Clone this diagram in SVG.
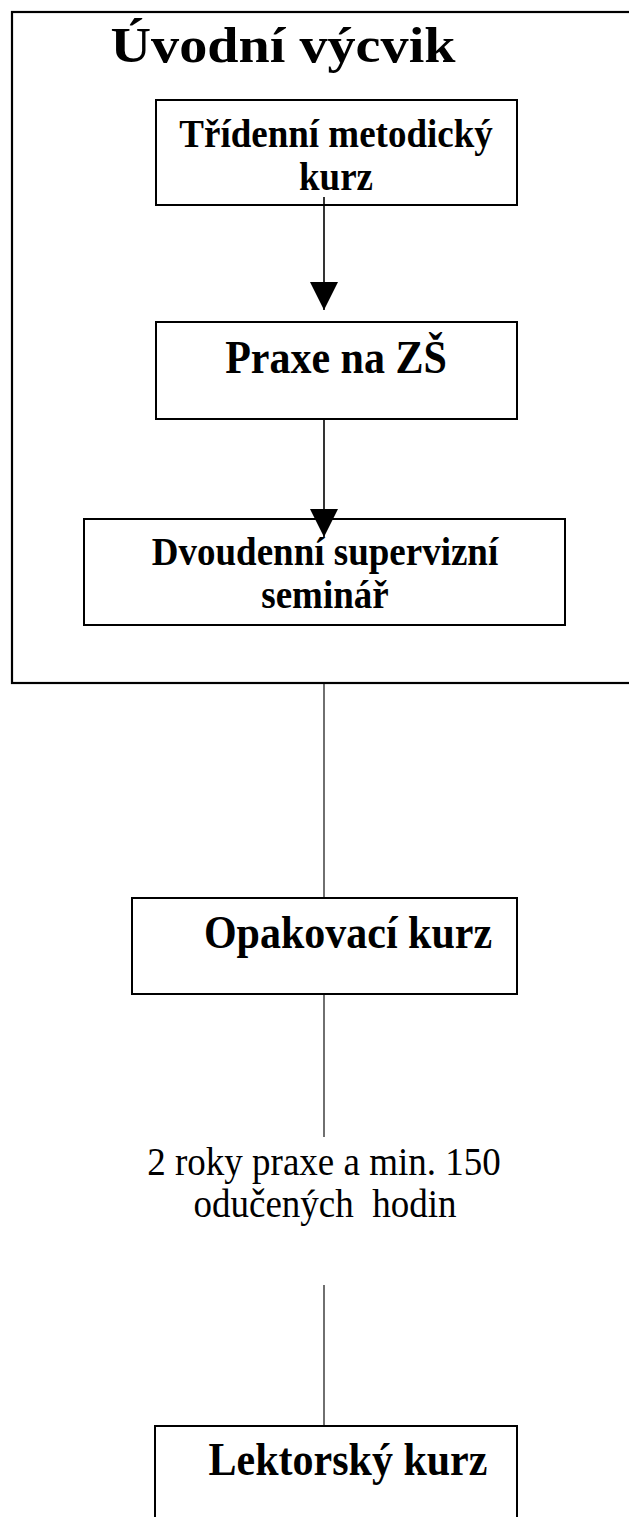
<svg xmlns="http://www.w3.org/2000/svg" width="629" height="1517" viewBox="0 0 629 1517">
<style>
.box{fill:#fff;stroke:#000;stroke-width:2}
.frame{fill:none;stroke:#000;stroke-width:2.2}
.b{font-family:"Liberation Serif","Times New Roman",serif;font-weight:bold;fill:#000;text-anchor:middle}
.r{font-family:"Liberation Serif","Times New Roman",serif;fill:#000;text-anchor:middle}
.ln{stroke:#000;stroke-width:1.6;fill:none}
.ln2{stroke:#222;stroke-width:1.3;fill:none}
</style>
<defs>
<marker id="ah" viewBox="0 0 28 28" refX="28" refY="14" markerWidth="28" markerHeight="28" markerUnits="userSpaceOnUse" orient="auto">
<path d="M0,0 L28,14 L0,28 Z" fill="#000"/>
</marker>
</defs>
<rect width="629" height="1517" fill="#fff"/>
<g id="uvodni-vycvik">
<rect class="frame" x="12" y="12" width="640" height="671"/>
<text class="b" transform="translate(283,62) scale(1,1.08)" x="0" y="0" font-size="47" textLength="345" lengthAdjust="spacingAndGlyphs">Úvodní výcvik</text>
</g>
<g id="tridenni">
<rect class="box" x="156" y="100" width="361" height="105"/>
<text class="b" transform="translate(336,147) scale(1,1.08)" x="0" y="0" font-size="37">Třídenní metodický</text>
<text class="b" transform="translate(336,190) scale(1,1.08)" x="0" y="0" font-size="37">kurz</text>
</g>
<g id="praxe">
<rect class="box" x="156" y="322" width="361" height="97"/>
<text class="b" transform="translate(336,373) scale(1,1.08)" x="0" y="0" font-size="42">Praxe na ZŠ</text>
</g>
<g id="dvoudenni">
<rect class="box" x="84" y="519" width="481" height="106"/>
<text class="b" transform="translate(325,565) scale(1,1.08)" x="0" y="0" font-size="37">Dvoudenní supervizní</text>
<text class="b" transform="translate(325,608) scale(1,1.08)" x="0" y="0" font-size="37">seminář</text>
</g>
<g id="opakovaci">
<rect class="box" x="132" y="898" width="385" height="96"/>
<text class="b" transform="translate(348,948) scale(1,1.08)" x="0" y="0" font-size="42">Opakovací kurz</text>
</g>
<g id="podminka">
<text class="r" transform="translate(324,1175) scale(1,1.08)" x="0" y="0" font-size="37">2 roky praxe a min. 150</text>
<text class="r" transform="translate(325,1217) scale(1,1.08)" x="0" y="0" font-size="37" xml:space="preserve">odučených  hodin</text>
</g>
<g id="lektorsky">
<rect class="box" x="155" y="1426" width="362" height="120"/>
<text class="b" transform="translate(348,1475) scale(1,1.08)" x="0" y="0" font-size="42">Lektorský kurz</text>
</g>
<g id="connectors">
<line class="ln" x1="324" y1="197" x2="324" y2="310" marker-end="url(#ah)"/>
<line class="ln" x1="324" y1="419" x2="324" y2="537" marker-end="url(#ah)"/>
<line class="ln2" x1="324" y1="684" x2="324" y2="897"/>
<line class="ln2" x1="324" y1="995" x2="324" y2="1137"/>
<line class="ln2" x1="324" y1="1285" x2="324" y2="1425"/>
</g>
</svg>
